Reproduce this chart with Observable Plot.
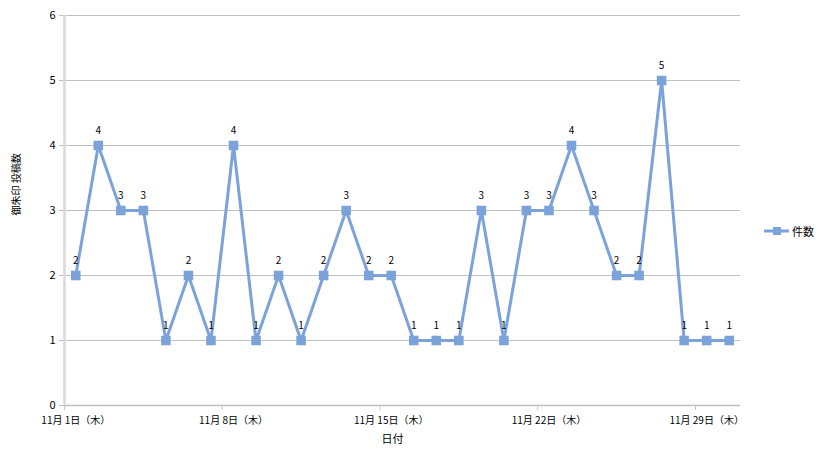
<!DOCTYPE html>
<html>
<head>
<meta charset="utf-8">
<script src="https://cdn.jsdelivr.net/npm/d3@7"></script>
<script src="https://cdn.jsdelivr.net/npm/@observablehq/plot@0.6"></script>
<style>
  html, body { margin: 0; padding: 0; background: #fff; }
  #wrap { position: relative; width: 821px; height: 455px; font-family: "Noto Sans CJK JP", "Noto Sans", sans-serif; }
  #wrap svg { font-family: "Noto Sans CJK JP", "Noto Sans", sans-serif; }
  #wrap [aria-label^="y-axis"] line, #wrap [aria-label="y-axis tick"] path { stroke: #bfbfbf; }
  #wrap [aria-label^="x-axis"] line, #wrap [aria-label="x-axis tick"] path { stroke: #c8c8c8; }
  #legend { position: absolute; left: 764px; top: 223px; display: flex; align-items: center; font-size: 11px; color: #000; }
</style>
</head>
<body>
<div id="wrap"></div>
<script>
// Data: November 2018, day of month
const days = [1,2,3,4,5,6,7,8,9,10,11,12,13,14,15,16,17,18,19,20,21,22,23,24,25,26,27,28,29,30];
const counts = [2,4,3,3,1,2,1,4,1,2,1,2,3,2,2,1,1,1,3,1,3,3,4,3,2,2,5,1,1,1];
const labelDays = [1, 8, 15, 22, 29];
const labelTexts = ["11月 1日（木）", "11月 8日（木）", "11月 15日（木）", "11月 22日（木）", "11月 29日（木）"];
const yTicks = [0,1,2,3,4,5,6];
const seriesName = "件数";
const xTitle = "日付";
const yTitle = "御朱印 投稿数";

const lineColor = "#7ba3da";
const data = days.map((d, i) => ({day: d, count: counts[i]}));
const xLabels = labelDays.map((d, i) => ({day: d, text: labelTexts[i]}));
const tickEdges = labelDays.map(d => d - 0.5);

const chart = Plot.plot({
  width: 821,
  height: 455,
  marginLeft: 64,
  marginRight: 81,
  marginTop: 15,
  marginBottom: 50,
  style: {fontSize: "11px", color: "#000", background: "#fff"},
  x: {domain: [0.5, 30.5], ticks: tickEdges, tickFormat: () => "", tickSize: 5, label: null},
  y: {domain: [0, 6], ticks: yTicks, tickFormat: d3.format("d"), tickSize: 5, tickPadding: 4, label: null},
  marks: [
    Plot.ruleY(yTicks.filter(t => t > 0), {stroke: "#c0c0c0", strokeWidth: 1}),
    Plot.ruleY([0], {stroke: "#bfbfbf", strokeWidth: 1.5}),
    Plot.ruleX([0.5], {stroke: "#d9d9d9", strokeWidth: 2.5}),
    Plot.line(data, {x: "day", y: "count", stroke: lineColor, strokeWidth: 3}),
    Plot.dot(data, {x: "day", y: "count", symbol: "square", r: 5.4, fill: lineColor, stroke: "none"}),
    Plot.text(data, {x: "day", y: "count", text: d => String(d.count), dy: -15, fontSize: 10, fill: "#000"}),
    Plot.text(xLabels, {x: "day", y: 0, text: "text", dy: 15, fontSize: 10, fill: "#000"}),
    Plot.text([xTitle], {frameAnchor: "bottom", dy: 37, dx: -10, fontSize: 11, fill: "#000"}),
    Plot.text([yTitle], {frameAnchor: "left", dx: -48, dy: 5, rotate: -90, fontSize: 10, fill: "#000"})
  ]
});
document.getElementById("wrap").appendChild(chart);

const legend = document.createElement("div");
legend.id = "legend";
legend.innerHTML = `<svg width="26" height="12" style="margin-right:2px"><line x1="0" x2="25" y1="6" y2="6" stroke="${lineColor}" stroke-width="3"/><rect x="9" y="2" width="8" height="8" fill="${lineColor}"/></svg><span>${seriesName}</span>`;
document.getElementById("wrap").appendChild(legend);
</script>
</body>
</html>
